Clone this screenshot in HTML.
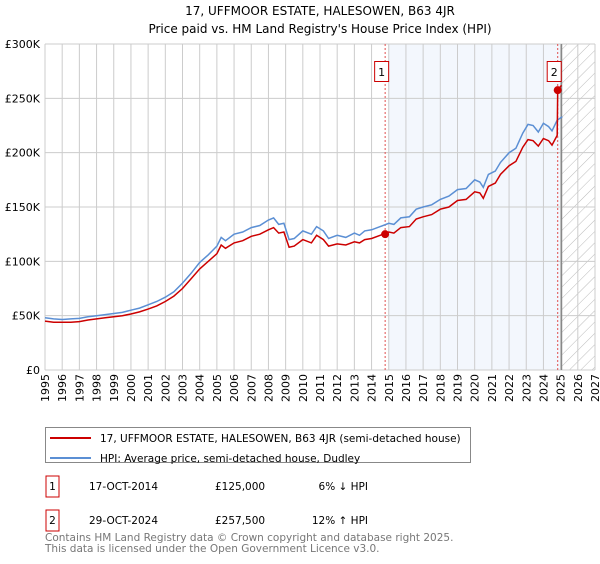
<!DOCTYPE html>
<html><head><meta charset="utf-8"><style>
body{margin:0;background:#fff;font-family:"DejaVu Sans","Liberation Sans",sans-serif;}
svg text{font-family:"DejaVu Sans","Liberation Sans",sans-serif;}
</style></head><body>
<svg id="c" width="600" height="560" xmlns="http://www.w3.org/2000/svg">
<defs><pattern id="hatch" width="8" height="8" patternUnits="userSpaceOnUse" patternTransform="rotate(45)"><line x1="0" y1="0" x2="0" y2="8" stroke="#bbb" stroke-width="1"/></pattern></defs>
<text x="320" y="15" text-anchor="middle" font-size="12">17, UFFMOOR ESTATE, HALESOWEN, B63 4JR</text>
<text x="320" y="33" text-anchor="middle" font-size="12">Price paid vs. HM Land Registry's House Price Index (HPI)</text>
<g id="plot"></g>
<rect x="45.5" y="427.5" width="425" height="35" fill="#fff" stroke="#888"/>
<line x1="50" y1="438" x2="91" y2="438" stroke="#cc0000" stroke-width="2"/>
<text x="100" y="442" font-size="10.5">17, UFFMOOR ESTATE, HALESOWEN, B63 4JR (semi-detached house)</text>
<line x1="50" y1="458" x2="91" y2="458" stroke="#5b8fd4" stroke-width="2"/>
<text x="100" y="462" font-size="10.5">HPI: Average price, semi-detached house, Dudley</text>
<g font-size="10.5">
<rect x="46" y="476" width="13" height="21" fill="none" stroke="#cc0000"/>
<text x="52.5" y="490" text-anchor="middle">1</text>
<text x="89" y="490">17-OCT-2014</text><text x="215" y="490">£125,000</text><text x="368" y="490" text-anchor="end">6% ↓ HPI</text></g>
<g font-size="10.5">
<rect x="46" y="510" width="13" height="21" fill="none" stroke="#cc0000"/>
<text x="52.5" y="524" text-anchor="middle">2</text>
<text x="89" y="524">29-OCT-2024</text><text x="215" y="524">£257,500</text><text x="368" y="524" text-anchor="end">12% ↑ HPI</text></g>
<text x="45" y="541" font-size="10.5" fill="#777">Contains HM Land Registry data © Crown copyright and database right 2025.</text>
<text x="45" y="552" font-size="10.5" fill="#777">This data is licensed under the Open Government Licence v3.0.</text>
</svg>
<script>
const hpiYears=[1995,1995.5,1996,1996.5,1997,1997.5,1998,1998.5,1999,1999.5,2000,2000.5,2001,2001.5,2002,2002.5,2003,2003.5,2004,2004.5,2005,2005.25,2005.5,2006,2006.5,2007,2007.5,2008,2008.3,2008.6,2008.9,2009.2,2009.5,2010,2010.5,2010.8,2011.2,2011.5,2012,2012.5,2013,2013.3,2013.6,2014,2014.5,2015,2015.3,2015.7,2016.2,2016.6,2017,2017.5,2018,2018.5,2019,2019.5,2020,2020.3,2020.5,2020.8,2021.2,2021.5,2022,2022.4,2022.8,2023.1,2023.4,2023.7,2024,2024.3,2024.5,2024.8,2025.1];
const hpiValues=[48,47,46.5,47,47.5,49,50,51,52,53,55,57,60,63,67,72,80,89,99,106,114,122,119,125,127,131,133,138,140,134,135,120,121,128,125,132,128,121,124,122,126,124,128,129,132,135,134,140,141,148,150,152,157,160,166,167,175,173,168,180,183,191,200,204,218,226,225,219,227,224,220,230,233];
const priceYears=[1995,1995.5,1996,1996.5,1997,1997.5,1998,1998.5,1999,1999.5,2000,2000.5,2001,2001.5,2002,2002.5,2003,2003.5,2004,2004.5,2005,2005.25,2005.5,2006,2006.5,2007,2007.5,2008,2008.3,2008.6,2008.9,2009.2,2009.5,2010,2010.5,2010.8,2011.2,2011.5,2012,2012.5,2013,2013.3,2013.6,2014,2014.5,2015,2015.3,2015.7,2016.2,2016.6,2017,2017.5,2018,2018.5,2019,2019.5,2020,2020.3,2020.5,2020.8,2021.2,2021.5,2022,2022.4,2022.8,2023.1,2023.4,2023.7,2024,2024.3,2024.5,2024.8,2024.83,2025.05];
const priceValues=[45,44,44,44,44.5,46,47,48,49,50,51.5,53.5,56,59,63,68,75,84,93,100,107,115,112,117,119,123,125,129,131,126,127,113,114,120,117,124,120,114,116,115,118,117,120,121,124,127,126,131,132,139,141,143,148,150,156,157,164,163,158,169,172,180,188,192,205,212,211,206,213,211,207,216,257.5,262];
const saleYears=[2014.79,2024.83];
const saleValues=[125,257.5];
const saleLabels=["1","2"];
const yTicks=[0,50,100,150,200,250,300];
const yTickLabels=["£0","£50K","£100K","£150K","£200K","£250K","£300K"];
const xTicks=[1995,1996,1997,1998,1999,2000,2001,2002,2003,2004,2005,2006,2007,2008,2009,2010,2011,2012,2013,2014,2015,2016,2017,2018,2019,2020,2021,2022,2023,2024,2025,2026,2027];
const presentYear=2025.05;

const L=45,R=595,T=44,B=370;
const x=y=>L+(y-1995)/(2027-1995)*(R-L);
const yv=v=>B-v/300*(B-T);
const NS="http://www.w3.org/2000/svg";
const g=document.getElementById('plot');
function mk(tag,at){const e=document.createElementNS(NS,tag);for(const k in at)e.setAttribute(k,at[k]);g.appendChild(e);return e;}
let e;
e=mk('rect',{x:x(saleYears[0])+3,y:T,width:x(presentYear)-x(saleYears[0])-3,height:B-T,fill:'#eef3fc',opacity:0.7});


e=mk('rect',{x:x(presentYear),y:T,width:R-x(presentYear),height:B-T,fill:'url(#hatch)'});


xTicks.forEach(t=>{
 e=mk('line',{x1:x(t),x2:x(t),y1:T,y2:B,stroke:'#ccc','stroke-width':1});
 
 
 e=mk('text',{x:0,y:0,'font-size':11,'text-anchor':'end',transform:`translate(${x(t)+4},${B+4}) rotate(-90)`});
 e.textContent=t;
 
 
});
yTicks.forEach((t,i)=>{
 e=mk('line',{x1:L,x2:R,y1:yv(t),y2:yv(t),stroke:'#ccc','stroke-width':1});
 
 
 e=mk('text',{x:40,y:yv(t)+4,'font-size':11,'text-anchor':'end'});
 e.textContent=yTickLabels[i];
 
 
});
e=mk('line',{x1:x(presentYear),x2:x(presentYear),y1:T,y2:B,stroke:'#888','stroke-width':1.5});


saleYears.forEach((s,i)=>{
 e=mk('line',{x1:x(s),x2:x(s),y1:T,y2:B,stroke:'#e05050','stroke-width':1,'stroke-dasharray':'2,2'});
 
 
});
function path(xs,vs){return xs.map((t,i)=>(i?'L':'M')+x(t).toFixed(1)+','+yv(vs[i]).toFixed(1)).join('');}
e=mk('path',{d:path(hpiYears,hpiValues),fill:'none',stroke:'#5b8fd4','stroke-width':1.5});


e=mk('path',{d:path(priceYears,priceValues),fill:'none',stroke:'#cc0000','stroke-width':1.5});


saleYears.forEach((s,i)=>{
 e=mk('circle',{cx:x(s),cy:yv(saleValues[i]),r:4,fill:'#cc0000'});
 
 
 e=mk('rect',{x:x(s)-10.5,y:61.5,width:14,height:20,fill:'#fff',stroke:'#cc0000'});
 
 
 e=mk('text',{x:x(s)-3.5,y:76,'font-size':11,'text-anchor':'middle'});
 e.textContent=saleLabels[i];
 
 
});
</script>
</body></html>
